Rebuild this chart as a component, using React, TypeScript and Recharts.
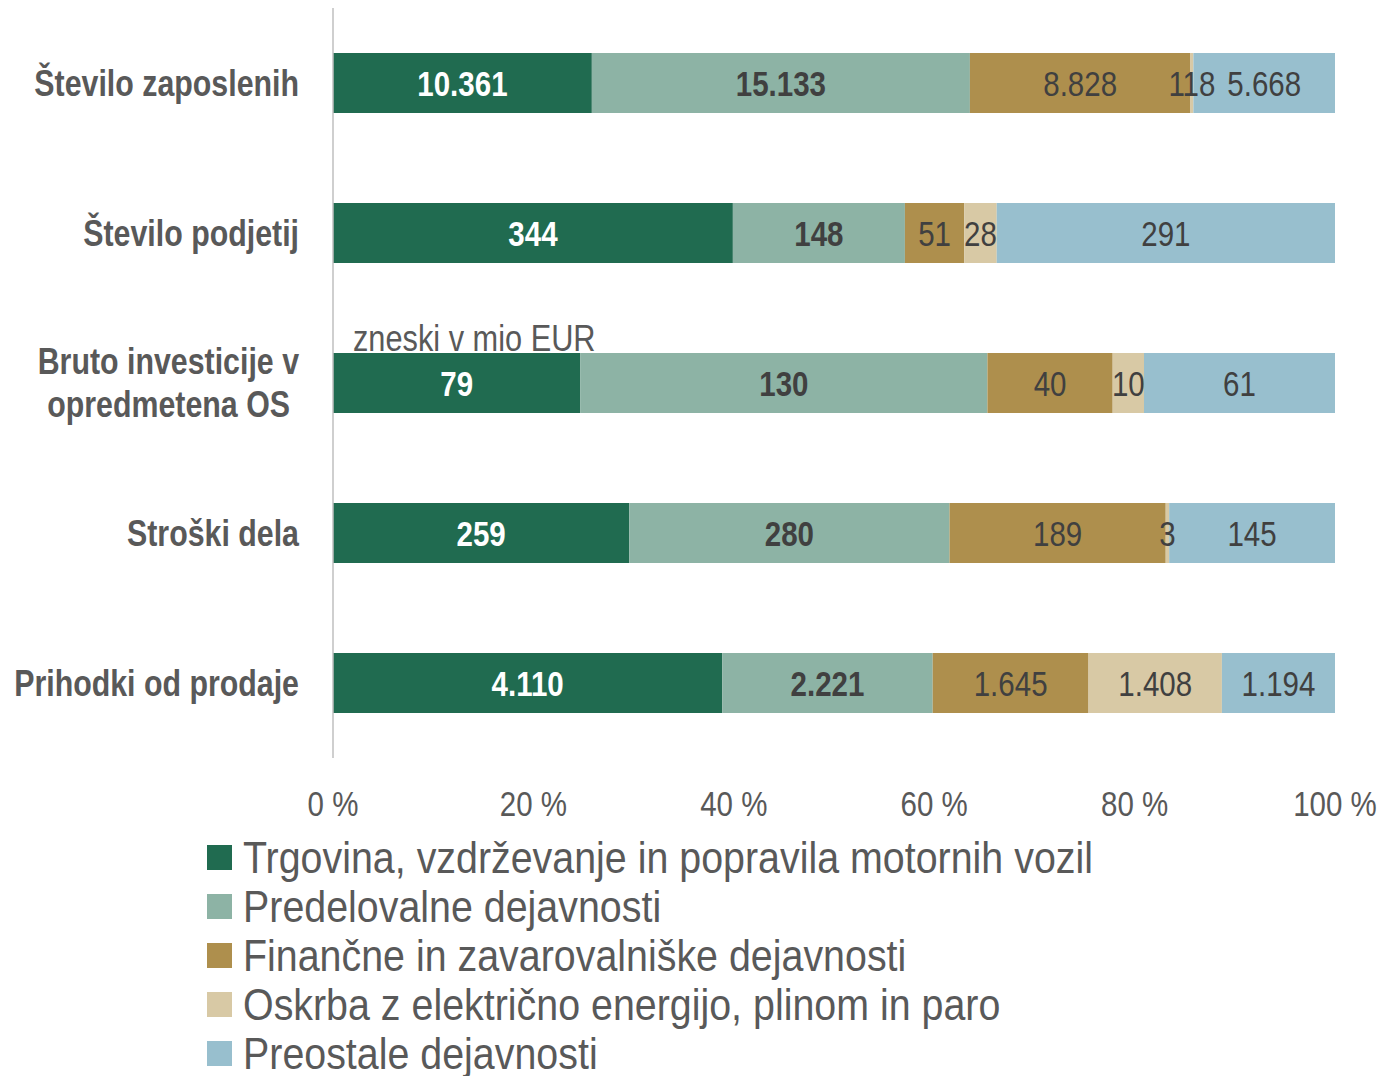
import { BarChart, Bar, XAxis, YAxis, Legend, LabelList } from "recharts";

const categories = [
  "Število zaposlenih",
  "Število podjetij",
  "Bruto investicije v\nopredmetena OS",
  "Stroški dela",
  "Prihodki od prodaje",
];
const trgovina = [10361, 344, 79, 259, 4110];
const predelovalne = [15133, 148, 130, 280, 2221];
const financne = [8828, 51, 40, 189, 1645];
const oskrba = [118, 28, 10, 3, 1408];
const preostale = [5668, 291, 61, 145, 1194];
const unitNotes = ["", "", "zneski v mio EUR", "", ""];
const xTicks = [0, 0.2, 0.4, 0.6, 0.8, 1];

const series = [
  { key: "trgovina", name: "Trgovina, vzdrževanje in popravila motornih vozil", color: "#206b50", text: "#ffffff", bold: true },
  { key: "predelovalne", name: "Predelovalne dejavnosti", color: "#8db3a5", text: "#404040", bold: true },
  { key: "financne", name: "Finančne in zavarovalniške dejavnosti", color: "#ae8f4d", text: "#404040", bold: false },
  { key: "oskrba", name: "Oskrba z električno energijo, plinom in paro", color: "#d8c9a5", text: "#404040", bold: false },
  { key: "preostale", name: "Preostale dejavnosti", color: "#98bfce", text: "#404040", bold: false },
];

const data = categories.map((name, i) => ({
  name,
  trgovina: trgovina[i],
  predelovalne: predelovalne[i],
  financne: financne[i],
  oskrba: oskrba[i],
  preostale: preostale[i],
  note: unitNotes[i],
}));

// no Arial Narrow in the sandbox, so squeeze Liberation Sans horizontally
const FONT = "'Liberation Sans', Arial, sans-serif";
const NARROW = 0.82;
const GREY = "#595959";

function fmt(v: number): string {
  return String(v).replace(/\B(?=(\d{3})+(?!\d))/g, ".");
}

function NarrowText({ x, y, anchor = "start", size, bold, fill, dy, children }: any) {
  return (
    <text
      transform={`translate(${x},${y}) scale(${NARROW},1)`}
      textAnchor={anchor}
      dy={dy}
      fill={fill}
      fontFamily={FONT}
      fontSize={size}
      fontWeight={bold ? "bold" : "normal"}
    >
      {children}
    </text>
  );
}

function CategoryTick(props: any) {
  const { x, y, payload } = props;
  const lines = String(payload.value).split("\n");
  const lh = 43;
  const start = y - ((lines.length - 1) * lh) / 2;
  return (
    <g>
      {lines.map((l, i) => (
        <NarrowText key={i} x={i > 0 ? x - 9 : x} y={start + i * lh} anchor="end" size={37} bold fill={GREY} dy="0.35em">
          {l}
        </NarrowText>
      ))}
    </g>
  );
}

function PercentTick(props: any) {
  const { x, y, payload } = props;
  return (
    <NarrowText x={x} y={y + 50} anchor="middle" size={36} fill={GREY}>
      {`${Math.round(payload.value * 100)} %`}
    </NarrowText>
  );
}

function makeValueLabel(fill: string, bold: boolean) {
  return function ValueLabel(props: any) {
    const { x, y, width, height, value } = props;
    return (
      <NarrowText x={x + width / 2} y={y + height / 2} anchor="middle" size={36} bold={bold} fill={fill} dy="0.35em">
        {fmt(Number(value))}
      </NarrowText>
    );
  };
}

function NoteLabel(props: any) {
  const { x, y, value } = props;
  if (!value) return null;
  return (
    <NarrowText x={x + 20} y={y - 2} size={37.5} fill={GREY}>
      {value}
    </NarrowText>
  );
}

function LegendBox() {
  return (
    <div style={{ fontFamily: FONT, fontSize: 44, color: GREY, lineHeight: "49px" }}>
      {series.map((s) => (
        <div key={s.key} style={{ display: "flex", alignItems: "center", height: 49 }}>
          <span style={{ width: 25, height: 25, background: s.color, marginRight: 11, display: "inline-block", flexShrink: 0 }} />
          <span style={{ display: "inline-block", whiteSpace: "nowrap", transform: "scaleX(0.895)", transformOrigin: "left center" }}>
            {s.name}
          </span>
        </div>
      ))}
    </div>
  );
}

export default function App() {
  return (
    <div style={{ position: "absolute", left: 0, top: 0, background: "#fff" }}>
      <BarChart
        width={1384}
        height={1076}
        data={data}
        layout="vertical"
        stackOffset="expand"
        margin={{ top: 8, right: 49, left: 0, bottom: 288 }}
        barSize={60}
      >
        <XAxis
          type="number"
          domain={[0, 1]}
          ticks={xTicks}
          axisLine={false}
          tickLine={false}
          tick={<PercentTick />}
          interval={0}
          height={30}
        />
        <YAxis
          type="category"
          dataKey="name"
          width={333}
          axisLine={{ stroke: "#bfbfbf", strokeWidth: 1.5 }}
          tickLine={false}
          tick={<CategoryTick />}
          tickMargin={28}
        />
        <Legend
          layout="horizontal"
          verticalAlign="middle"
          align="center"
          content={<LegendBox />}
          wrapperStyle={{ position: "absolute", left: 207, top: 833, width: 1150, height: 245 }}
        />
        {series.map((s, idx) => (
          <Bar key={s.key} dataKey={s.key} name={s.name} stackId="a" fill={s.color} isAnimationActive={false}>
            <LabelList dataKey={s.key} content={makeValueLabel(s.text, s.bold)} />
            {idx === 0 && <LabelList dataKey="note" content={<NoteLabel />} />}
          </Bar>
        ))}
      </BarChart>
    </div>
  );
}
